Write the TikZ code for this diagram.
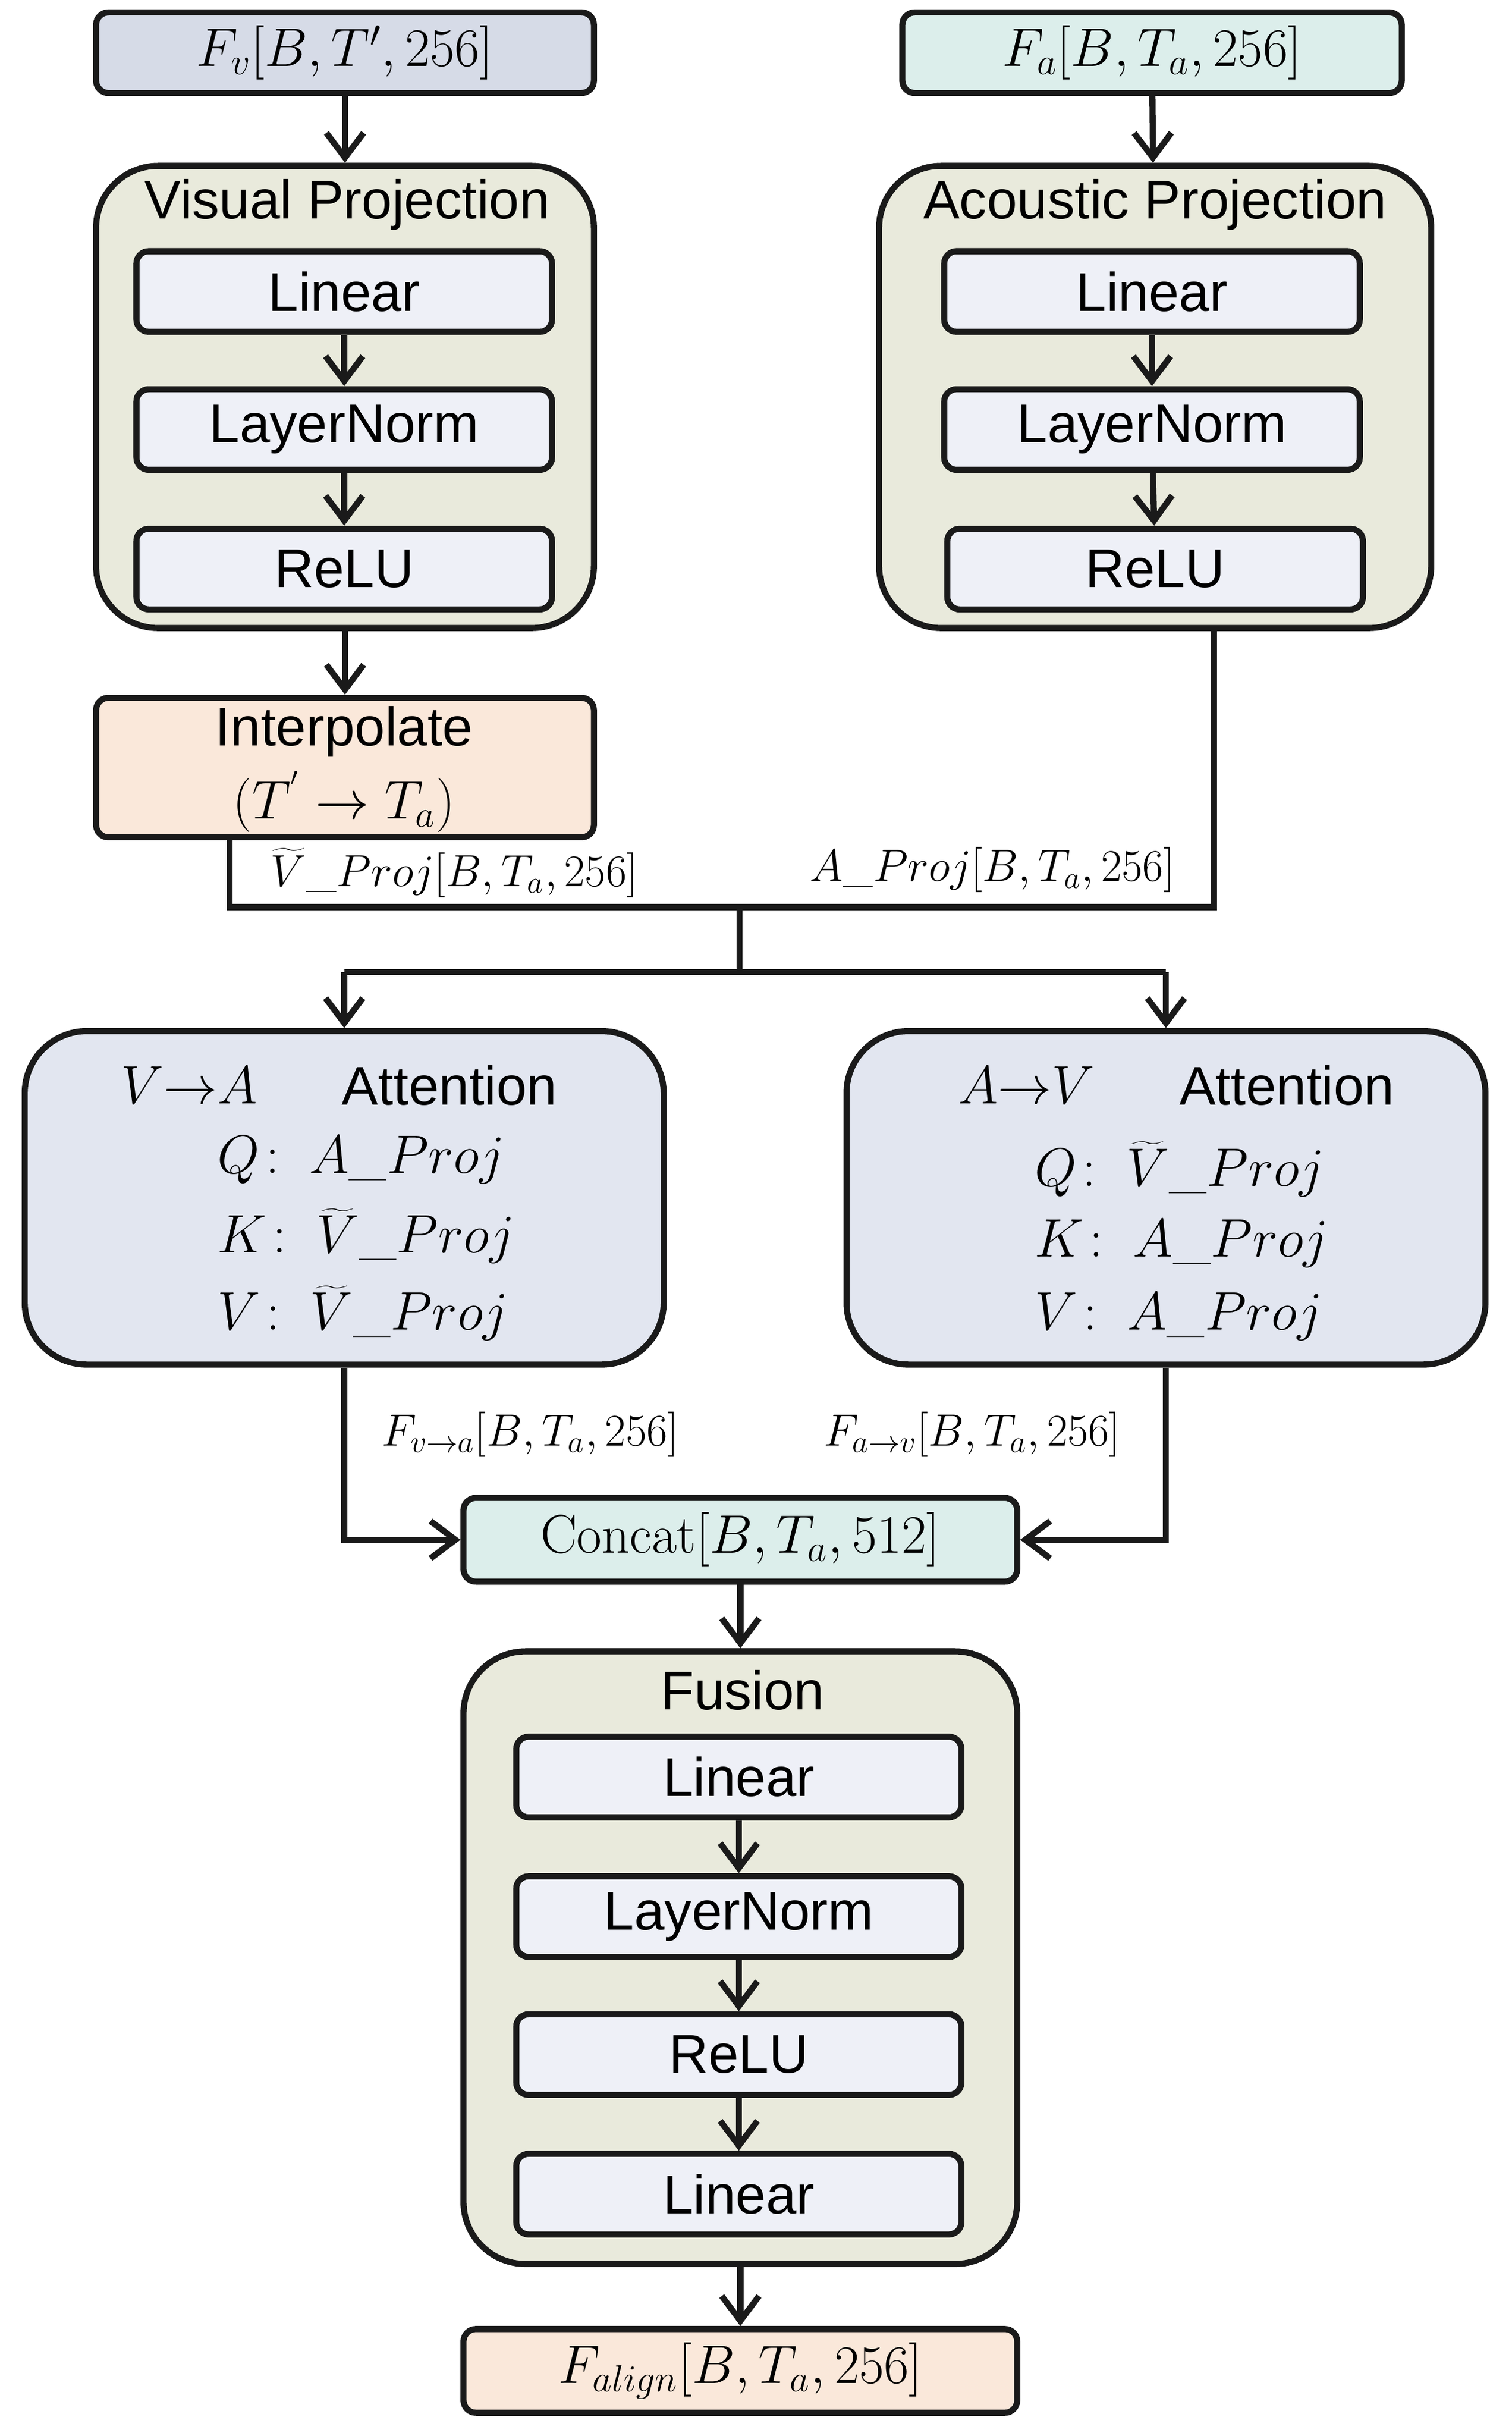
\documentclass[tikz,border=0pt]{standalone}
\usepackage{fontspec}
\setsansfont{Liberation Sans}
\usetikzlibrary{arrows.meta}
\definecolor{cBlueGray}{HTML}{D6DBE7}
\definecolor{cCyan}{HTML}{DCEEEB}
\definecolor{cOlive}{HTML}{E9EADC}
\definecolor{cInner}{HTML}{EEF0F7}
\definecolor{cPeach}{HTML}{FAE8DA}
\definecolor{cAtt}{HTML}{E2E6F0}
\definecolor{cLine}{HTML}{1A1A1A}
\tikzset{
  u/.style={x=0.025cm,y=-0.025cm},
  lw/.style={line width=2.8pt,draw=cLine},
  sbox/.style={lw,rounded corners=0.2cm,inner sep=0pt},
  iobox/.style={sbox,minimum height=1.3cm},
  inbox/.style={sbox,fill=cInner,minimum height=1.3cm,font=\sffamily\fontsize{25}{28}\selectfont},
  cont/.style={lw,rounded corners=1cm,inner sep=0pt},
  ttl/.style={font=\sffamily\fontsize{25}{28}\selectfont},
  mlab/.style={font=\fontsize{20}{24}\selectfont,inner sep=0pt},
  mbig/.style={font=\fontsize{25}{28}\selectfont,inner sep=0pt},
  arr/.style={lw,-{Straight Barb[length=0.4cm,width=0.6cm,line width=2.8pt]}},
  ln/.style={lw}
}
\begin{document}
\begin{tikzpicture}[u]
\useasboundingbox (0,0) rectangle (975,1571);
\node[iobox,fill=cBlueGray,minimum width=8.025cm,font=\fontsize{25}{28}\selectfont] (fv) at (222.5,34) {$F_v[B,T',256]$};
\node[iobox,fill=cCyan,minimum width=8.05cm,font=\fontsize{25}{28}\selectfont] (fa) at (743,34) {$F_a[B,T_a,256]$};
\node[cont,fill=cOlive,minimum width=8.025cm,minimum height=7.45cm] (vp) at (222.5,256) {};
\node[ttl] (vpt) at (224,132) {Visual Projection};
\node[inbox,minimum width=6.7cm] (vl) at (222,188) {Linear};
\node[inbox,minimum width=6.7cm] (vn) at (222,277) {LayerNorm};
\node[inbox,minimum width=6.7cm] (vr) at (222,367) {ReLU};
\node[cont,fill=cOlive,minimum width=8.9cm,minimum height=7.45cm] (ap) at (745,256) {};
\node[ttl] (apt) at (745,132) {Acoustic Projection};
\node[inbox,minimum width=6.7cm] (al) at (743,188) {Linear};
\node[inbox,minimum width=6.7cm] (an) at (743,277) {LayerNorm};
\node[inbox,minimum width=6.7cm] (ar) at (745,367) {ReLU};
\node[sbox,fill=cPeach,minimum width=8.025cm,minimum height=2.25cm] (ip) at (222.5,495) {};
\node[ttl] (ipt) at (222,472) {Interpolate};
\node[mbig] (ipm) at (222,517) {$(T^{'}\rightarrow T_a)$};
\draw[arr] (fv) -- (vp);
\draw[arr] (fa) -- (ap);
\draw[arr] (vl) -- (vn);
\draw[arr] (vn) -- (vr);
\draw[arr] (al) -- (an);
\draw[arr] (an) -- (ar);
\draw[arr] (vp) -- (ip);
\coordinate (j1) at (148,585);
\coordinate (j2) at (783,585);
\coordinate (jm) at (477,585);
\coordinate (js) at (477,627);
\coordinate (sl) at (222,627);
\coordinate (sr) at (752,627);
\draw[ln] (j1 |- ip.south) -- (j1) -- (j2) -- (j2 |- ap.south);
\draw[ln] (jm) -- (js);
\draw[ln] (sl) -- (sr);
\node[mlab] (lv) at (293,563) {$\widetilde{V}\_Proj[B,T_a,256]$};
\node[mlab] (la) at (640,561) {$A\_Proj[B,T_a,256]$};
\node[cont,fill=cAtt,minimum width=10.3cm,minimum height=5.375cm] (va) at (222,772.5) {};
\node[cont,fill=cAtt,minimum width=10.3cm,minimum height=5.375cm] (av) at (752,772.5) {};
\draw[arr] (sl) -- (va);
\draw[arr] (sr) -- (av);
\node[mbig] (va1) at (122,700) {$V{\rightarrow}A$};
\node[ttl] (va2) at (290,700) {Attention};
\node[mbig,anchor=west] (va3) at (140,748) {$Q\!:\;A\_Proj$};
\node[mbig,anchor=west] (va4) at (140,797) {$K\!:\;\widetilde{V}\_Proj$};
\node[mbig,anchor=west] (va5) at (140,847) {$V\!:\;\widetilde{V}\_Proj$};
\node[mbig] (av1) at (662,700) {$A{\rightarrow}V$};
\node[ttl] (av2) at (830,700) {Attention};
\node[mbig,anchor=west] (av3) at (667,754) {$Q\!:\;\widetilde{V}\_Proj$};
\node[mbig,anchor=west] (av4) at (667,802) {$K\!:\;A\_Proj$};
\node[mbig,anchor=west] (av5) at (667,849) {$V\!:\;A\_Proj$};
\node[iobox,fill=cCyan,minimum width=8.925cm,minimum height=1.35cm,font=\fontsize{25}{28}\selectfont] (cc) at (477.5,993) {Concat$[B,T_a,512]$};
\draw[arr] (va.south) |- (cc.west);
\draw[arr] (av.south) |- (cc.east);
\node[mlab] (lva) at (342,925) {$F_{v\rightarrow a}[B,T_a,256]$};
\node[mlab] (lav) at (627,925) {$F_{a\rightarrow v}[B,T_a,256]$};
\node[cont,fill=cOlive,minimum width=8.925cm,minimum height=9.875cm] (fu) at (477.5,1262.5) {};
\node[ttl] (fut) at (479,1090) {Fusion};
\node[inbox,minimum width=7.175cm] (f1) at (476.5,1146) {Linear};
\node[inbox,minimum width=7.175cm] (f2) at (476.5,1236) {LayerNorm};
\node[inbox,minimum width=7.175cm] (f3) at (476.5,1325) {ReLU};
\node[inbox,minimum width=7.175cm] (f4) at (476.5,1415) {Linear};
\draw[arr] (cc.south -| fu.north) -- (fu.north);
\draw[arr] (f1) -- (f2);
\draw[arr] (f2) -- (f3);
\draw[arr] (f3) -- (f4);
\node[iobox,fill=cPeach,minimum width=8.925cm,minimum height=1.35cm,font=\fontsize{25}{28}\selectfont] (fo) at (477.5,1529) {$F_{align}[B,T_a,256]$};
\draw[arr] (fu) -- (fo);
\end{tikzpicture}
\end{document}
